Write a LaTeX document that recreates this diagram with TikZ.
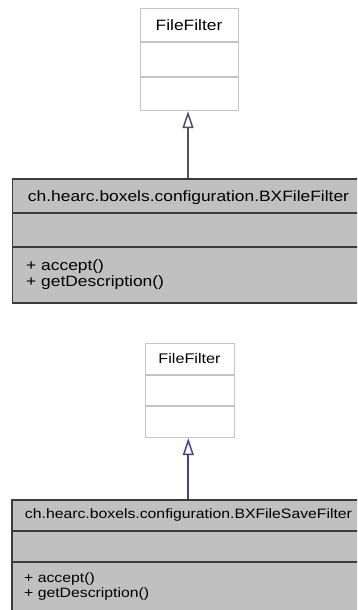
\documentclass[tikz,border=0pt]{standalone}
\usepackage{fontspec}
\setmainfont[FakeStretch=1.16]{Liberation Sans}
\usetikzlibrary{arrows.meta}
\definecolor{supline}{HTML}{C4C4C4}
\definecolor{clsfill}{HTML}{C0C0C0}
\definecolor{clsline}{HTML}{3C3C3C}
\definecolor{inhA}{HTML}{4E4E70}
\definecolor{inhB}{HTML}{4A3C9C}
\tikzset{
  supbox/.style={draw=supline, fill=white, line width=1.2pt, inner sep=0pt, anchor=north west},
  supsep/.style={draw=supline, line width=1.2pt},
  clsbox/.style={draw=clsline, fill=clsfill, line width=1.5pt, inner sep=0pt, anchor=north west},
  clssep/.style={draw=clsline, line width=1.5pt},
  txt/.style={inner sep=0pt, anchor=base, text=black},
  mtxt/.style={inner sep=0pt, anchor=base west, text=black, align=left},
  inh/.style={line width=1.7pt, -{Triangle[open, length=17pt, width=11pt, fill=white, line width=1.5pt]}},
}
\begin{document}
\begin{tikzpicture}[x=1pt, y=-1pt]
\useasboundingbox (0,0) rectangle (357,610);
\begin{scope}
\clip (0,0) rectangle (357,610);
% ---------- top diagram ----------
\node[supbox, minimum width=98pt, minimum height=102pt] (ff1) at (140,8) {};
\draw[supsep] (140,42) -- (238,42);
\draw[supsep] (140,77) -- (238,77);
\node[txt, font=\fontsize{15}{17}\selectfont] (ff1t) at (189,31) {FileFilter};

\node[clsbox, minimum width=360pt, minimum height=124pt] (bx1) at (11.5,178) {};
\draw[clssep] (11.5,213) -- (372,213);
\draw[clssep] (11.5,247) -- (372,247);
\node[txt, font=\fontsize{15}{17}\selectfont] (bx1t) at (188.5,201) {ch.hearc.boxels.configuration.BXFileFilter};
\node[mtxt, font=\fontsize{15}{16}\selectfont] (bx1m1) at (26,270) {+ accept()};
\node[mtxt, font=\fontsize{15}{16}\selectfont] (bx1m2) at (26,286) {+ getDescription()};
\coordinate (a1) at (188,178);
\draw[inh, draw=inhA] (a1) -- (a1 |- ff1.south);

% ---------- bottom diagram ----------
\node[supbox, minimum width=89pt, minimum height=94pt] (ff2) at (145,343) {};
\draw[supsep] (145,375) -- (234,375);
\draw[supsep] (145,406) -- (234,406);
\node[txt, font=\fontsize{14}{16}\selectfont] (ff2t) at (189.5,363.5) {FileFilter};

\node[clsbox, minimum width=360pt, minimum height=130pt] (bx2) at (11,499) {};
\draw[clssep] (11,531) -- (372,531);
\draw[clssep] (11,562) -- (372,562);
\node[txt, font=\fontsize{13.6}{15}\selectfont] (bx2t) at (188.5,518) {ch.hearc.boxels.configuration.BXFileSaveFilter};
\node[mtxt, font=\fontsize{13.6}{15}\selectfont] (bx2m1) at (24,582.5) {+ accept()};
\node[mtxt, font=\fontsize{13.6}{15}\selectfont] (bx2m2) at (24,597.5) {+ getDescription()};
\coordinate (a2) at (188.3,499);
\draw[inh, draw=inhB] (a2) -- (a2 |- ff2.south);
\end{scope}
\end{tikzpicture}
\end{document}
